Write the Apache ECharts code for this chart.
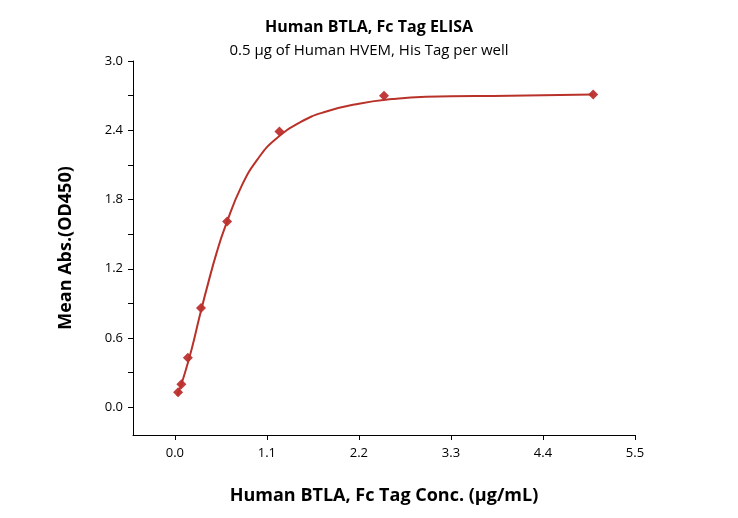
<!DOCTYPE html><html><head><meta charset="utf-8">
<script src="https://cdn.jsdelivr.net/npm/echarts@6/dist/echarts.min.js"></script>
<style>body{margin:0}#c{width:738px;height:518px}</style></head><body><div id="c"></div>
<script>
const pointsX=[0.039,0.078,0.156,0.3125,0.625,1.25,2.5,5];
const pointsY=[0.13,0.2,0.43,0.86,1.61,2.39,2.70,2.71];
const curveX=[0.03,0.1,0.2,0.3,0.4,0.5,0.6,0.8,1.0,1.2,1.5,1.8,2.2,2.6,3.0,4.0,5.0];
const curveY=[0.1,0.25,0.5,0.8,1.08,1.34,1.56,1.92,2.16,2.32,2.47,2.56,2.63,2.67,2.69,2.70,2.71];
const xTicks=[0,1.1,2.2,3.3,4.4,5.5];
const yTicks=[0,0.6,1.2,1.8,2.4,3.0];
const yMinor=[0.3,0.9,1.5,2.1,2.7];
const F='"Open Sans", "Liberation Sans", sans-serif';
const c=echarts.init(document.getElementById('c'));
c.setOption({
 title:{text:'Human BTLA, Fc Tag ELISA',subtext:'0.5 μg of Human HVEM, His Tag per well',left:'center',top:14,itemGap:8,
  textStyle:{fontFamily:F,fontSize:16,fontWeight:'bold',color:'#000'},subtextStyle:{fontFamily:F,fontSize:15,color:'#000'}},
 grid:{left:133,right:103,top:61,bottom:83},
 xAxis:{type:'value',min:-0.5,max:5.5,axisLine:{onZero:false,lineStyle:{color:'#000'}},splitLine:{show:false},
  axisTick:{length:5,lineStyle:{color:'#000'},customValues:xTicks},
  axisLabel:{customValues:xTicks,formatter:v=>v.toFixed(1),fontFamily:F,fontSize:13,color:'#000',margin:12},
  name:'Human BTLA, Fc Tag Conc. (μg/mL)',nameLocation:'middle',nameGap:52,
  nameTextStyle:{fontFamily:F,fontSize:18,fontWeight:'bold',color:'#000'}},
 yAxis:{type:'value',min:-0.24,max:3.0,axisLine:{show:true,onZero:false,lineStyle:{color:'#000'}},splitLine:{show:false},
  axisTick:{length:5,lineStyle:{color:'#000'},customValues:yTicks.concat(yMinor)},
  axisLabel:{customValues:yTicks,formatter:v=>v.toFixed(1),fontFamily:F,fontSize:13,color:'#000',margin:10},
  name:'Mean Abs.(OD450)',nameLocation:'middle',nameGap:58,
  nameTextStyle:{fontFamily:F,fontSize:18,fontWeight:'bold',color:'#000'}},
 series:[
  {type:'line',smooth:true,symbol:'none',data:curveX.map((x,i)=>[x,curveY[i]]),lineStyle:{color:'#b8322a',width:2}},
  {type:'scatter',symbol:'diamond',symbolSize:10,data:pointsX.map((x,i)=>[x,pointsY[i]]),itemStyle:{color:'#c23b3b',opacity:1}}
 ]});
</script></body></html>
